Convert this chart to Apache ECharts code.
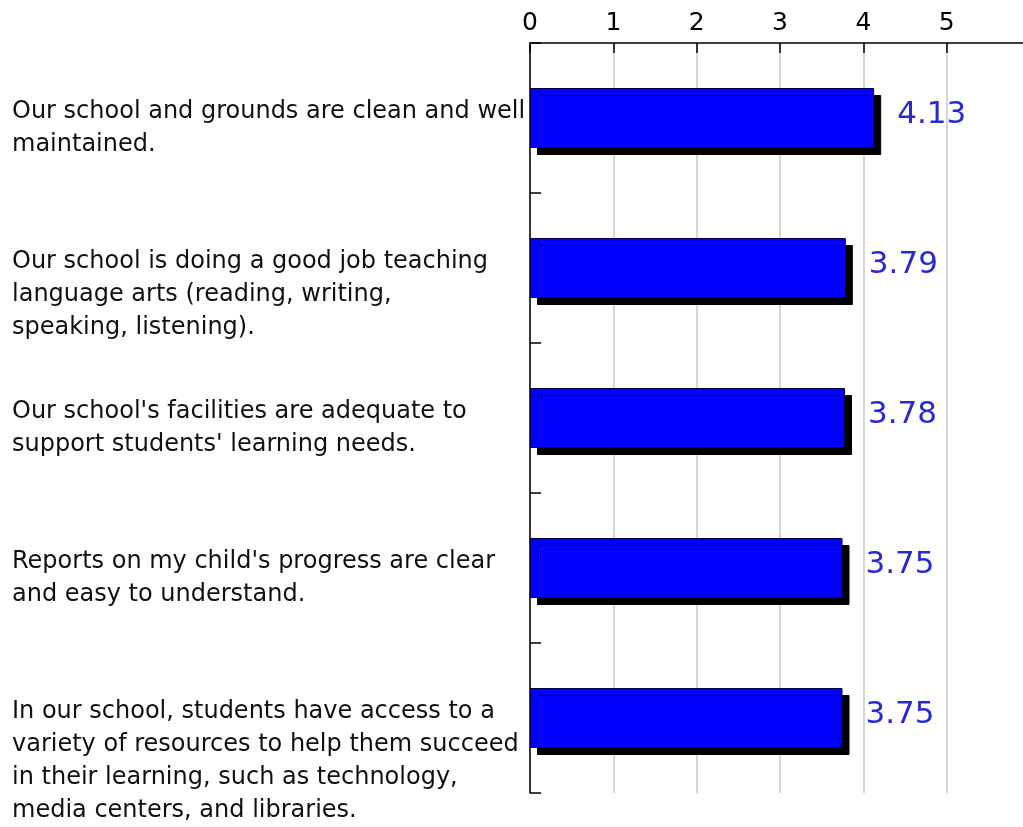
<!DOCTYPE html>
<html>
<head>
<meta charset="utf-8">
<script src="https://cdn.jsdelivr.net/npm/echarts@6/dist/echarts.min.js"></script>
<style>
  html, body { margin: 0; padding: 0; background: #fff; }
  #chart { width: 1023px; height: 827px; }
</style>
</head>
<body>
<div id="chart"></div>
<script>
const categories = [
  'Our school and grounds are clean and well\nmaintained.',
  'Our school is doing a good job teaching\nlanguage arts (reading, writing,\nspeaking, listening).',
  'Our school\'s facilities are adequate to\nsupport students\' learning needs.',
  'Reports on my child\'s progress are clear\nand easy to understand.',
  'In our school, students have access to a\nvariety of resources to help them succeed\nin their learning, such as technology,\nmedia centers, and libraries.'
];
const values = [4.13, 3.79, 3.78, 3.75, 3.75];
const xTicks = [0, 1, 2, 3, 4, 5];

const chart = echarts.init(document.getElementById('chart'));

const option = {
  animation: false,
  backgroundColor: '#fff',
  grid: {
    left: 530,
    top: 43,
    width: 500,
    bottom: 34,
    containLabel: false,
    outerBoundsMode: 'none'
  },
  xAxis: {
    type: 'value',
    position: 'top',
    min: 0,
    max: 6,
    interval: 1,
    axisLine: { show: true, lineStyle: { color: '#000', width: 1.5 } },
    axisTick: { show: true, inside: true, length: 10, lineStyle: { color: '#000', width: 1.5 } },
    axisLabel: {
      margin: 7,
      color: '#000',
      fontFamily: 'DejaVu Sans',
      fontSize: 25,
      formatter: v => (xTicks.indexOf(v) >= 0 ? String(v) : '')
    },
    splitLine: { show: true, lineStyle: { color: '#c8c8c8', width: 1.5 } }
  },
  yAxis: {
    type: 'category',
    inverse: true,
    data: categories,
    axisLine: { show: true, lineStyle: { color: '#000', width: 1.5 } },
    axisTick: { show: true, inside: true, length: 11, lineStyle: { color: '#000', width: 1.5 } },
    axisLabel: {
      margin: 518,
      align: 'left',
      verticalAlign: 'top',
      lineHeight: 33,
      padding: [-23, 0, 0, 0],
      color: '#111',
      fontFamily: 'DejaVu Sans',
      fontSize: 24
    },
    splitLine: { show: false }
  },
  series: [{
    type: 'bar',
    data: values,
    barWidth: 60,
    itemStyle: {
      color: '#0000ff',
      borderColor: '#000044',
      borderWidth: 1,
      shadowColor: '#000',
      shadowBlur: 0,
      shadowOffsetX: 7,
      shadowOffsetY: 7
    },
    label: {
      show: true,
      position: 'right',
      distance: 23,
      offset: [0, -3],
      color: '#2a2acc',
      fontFamily: 'DejaVu Sans',
      fontSize: 31,
      formatter: p => p.value.toFixed(2)
    }
  }]
};

chart.setOption(option);
</script>
</body>
</html>
